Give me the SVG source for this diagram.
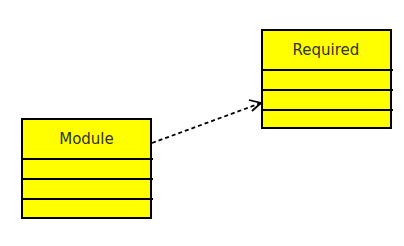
<svg xmlns="http://www.w3.org/2000/svg" width="404" height="246" viewBox="0 0 404 246">
  <style>
    .box { fill: #ffff00; stroke: #000; stroke-width: 2; }
    .sep { stroke: #000; stroke-width: 2; }
    .lbl { font-family: "DejaVu Sans", sans-serif; font-size: 15px; fill: #333; text-anchor: middle; }
    .dep { stroke: #000; stroke-width: 1.8; stroke-dasharray: 4 3; fill: none; }
    .head { stroke: #000; stroke-width: 1.8; fill: none; }
  </style>
  <rect width="404" height="246" fill="#fff"/>
  <g id="module">
    <rect class="box" x="22" y="119" width="129" height="99"/>
    <line class="sep" x1="22" y1="159" x2="153" y2="159"/>
    <line class="sep" x1="22" y1="179" x2="153" y2="179"/>
    <line class="sep" x1="22" y1="199" x2="153" y2="199"/>
    <text class="lbl" x="86.5" y="144">Module</text>
  </g>
  <g id="required">
    <rect class="box" x="262" y="30" width="129" height="98"/>
    <line class="sep" x1="262" y1="70" x2="393" y2="70"/>
    <line class="sep" x1="262" y1="90" x2="393" y2="90"/>
    <line class="sep" x1="262" y1="110" x2="393" y2="110"/>
    <text class="lbl" x="326" y="55">Required</text>
  </g>
  <g id="connectors">
    <line class="dep" x1="152" y1="143" x2="261" y2="103"/>
    <polyline class="head" points="249,100 261,103 252,111"/>
  </g>
</svg>
